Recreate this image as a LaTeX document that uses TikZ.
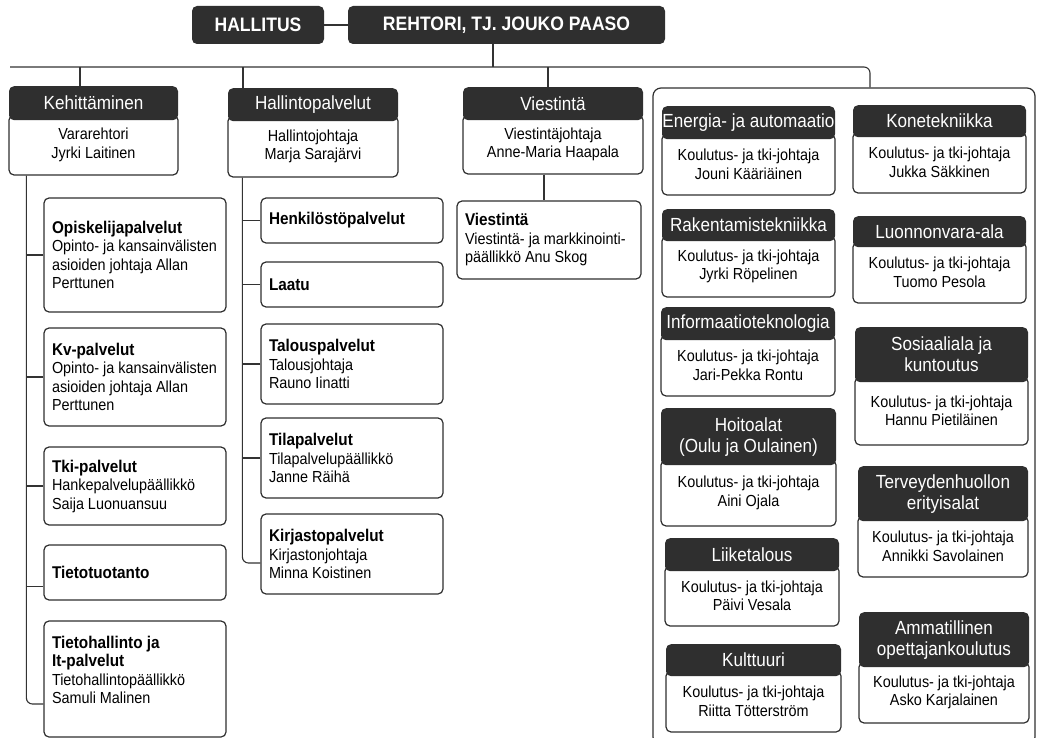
\documentclass[tikz,border=0pt]{standalone}
\usepackage{fontspec}
\setmainfont{Liberation Sans}[FakeStretch=0.9]
\usepackage{tikz}
\usetikzlibrary{positioning}
\definecolor{tumma}{HTML}{2F2F2F}
\newcommand\otsake[1]{{\bfseries\fontsize{17}{18.5}\selectfont #1}}
\tikzset{
    otsikko/.style={fill=tumma, text=white, rounded corners=5pt, inner sep=0pt, align=center, font=\fontsize{19}{21}\selectfont},
    runko/.style={draw=tumma, line width=1.2pt, fill=white, rounded corners=5pt, inner sep=0pt, align=center, font=\fontsize{16}{18.5}\selectfont},
    palvelu/.style={draw=tumma, line width=1.2pt, fill=white, rounded corners=5pt, align=flush left, inner xsep=8pt, inner ysep=0pt, text width=166pt, font=\fontsize{16}{18.5}\selectfont},
    johto/.style={fill=tumma, text=white, rounded corners=5pt, inner sep=0pt, minimum height=38pt, font=\bfseries\fontsize{19.5}{22}\selectfont},
    yhteys/.style={draw=black!80, line width=1.1pt}
}

\begin{document}
\begin{tikzpicture}[x=1pt, y=-1pt]
    \useasboundingbox (0,0) rectangle (1037,738);
    \clip (0,0) rectangle (1037,738);

    % ylin johto
    \node[johto, minimum width=132pt] (hallitus) at (258, 25) {HALLITUS};
    \node[johto, minimum width=317pt] (rehtori) at (506.5, 25) {REHTORI, TJ. JOUKO PAASO};

    % koulutusalojen kehys
    \node[draw=tumma, line width=1.2pt, rounded corners=8pt, minimum width=382pt, minimum height=657pt] (kehys) at (844, 416.5) {};

    % yksikot
    \node[runko, minimum width=169pt, minimum height=60pt] (kehitys) at (93.5, 145) {Vararehtori\\Jyrki Laitinen};
    \node[otsikko, minimum width=169pt, minimum height=34pt, above=-6pt of kehitys] (kehitys-o) {Kehittäminen};
    \node[runko, minimum width=170pt, minimum height=61pt] (hallinto) at (313, 146.5) {Hallintojohtaja\\Marja Sarajärvi};
    \node[otsikko, minimum width=170pt, minimum height=33pt, above=-6pt of hallinto] (hallinto-o) {Hallintopalvelut};
    \node[runko, minimum width=180pt, minimum height=59pt] (viestinta) at (553, 144.5) {Viestintäjohtaja\\Anne-Maria Haapala};
    \node[otsikko, minimum width=180pt, minimum height=33pt, above=-6pt of viestinta] (viestinta-o) {Viestintä};

    % kehittamisen palvelut
    \node[palvelu, minimum height=114pt] (opisk) at (135, 255) {\otsake{Opiskelijapalvelut}\\Opinto- ja kansainvälisten\\asioiden johtaja Allan\\Perttunen};
    \node[palvelu, minimum height=98pt] (kv) at (135, 377) {\otsake{Kv-palvelut}\\Opinto- ja kansainvälisten\\asioiden johtaja Allan\\Perttunen};
    \node[palvelu, minimum height=78pt] (tki) at (135, 486) {\otsake{Tki-palvelut}\\Hankepalvelupäällikkö\\Saija Luonuansuu};
    \node[palvelu, minimum height=55pt] (tietotuot) at (135, 572.5) {\otsake{Tietotuotanto}};
    \node[palvelu, minimum height=116pt] (tietohal) at (135, 679) {\otsake{Tietohallinto ja}\\\otsake{It-palvelut}\\Tietohallintopäällikkö\\Samuli Malinen\\\mbox{}};

    % hallintopalvelut
    \node[palvelu, minimum height=45pt] (henkilo) at (352, 220.5) {\otsake{Henkilöstöpalvelut}};
    \node[palvelu, minimum height=45pt] (laatu) at (352, 284.5) {\otsake{Laatu}};
    \node[palvelu, minimum height=80pt] (talous) at (352, 364) {\otsake{Talouspalvelut}\\Talousjohtaja\\Rauno Iinatti};
    \node[palvelu, minimum height=80pt] (tila) at (352, 458) {\otsake{Tilapalvelut}\\Tilapalvelupäällikkö\\Janne Räihä};
    \node[palvelu, minimum height=80pt] (kirjasto) at (352, 554) {\otsake{Kirjastopalvelut}\\Kirjastonjohtaja\\Minna Koistinen};

    % viestinta
    \node[palvelu, text width=168pt, minimum height=78pt] (viesti) at (549, 240) {\otsake{Viestintä}\\Viestintä- ja markkinointi-\\päällikkö Anu Skog};

    % koulutusalat, vasen sarake
    \node[runko, minimum width=173pt, minimum height=61pt] (energia) at (748.5, 164.5) {Koulutus- ja tki-johtaja\\Jouni Kääriäinen};
    \node[otsikko, minimum width=173pt, minimum height=33pt, above=-6pt of energia] (energia-o) {Energia- ja automaatio};
    \node[runko, minimum width=173pt, minimum height=61pt] (rakennus) at (748.5, 266.5) {Koulutus- ja tki-johtaja\\Jyrki Röpelinen};
    \node[otsikko, minimum width=173pt, minimum height=32pt, above=-6pt of rakennus] (rakennus-o) {Rakentamistekniikka};
    \node[runko, minimum width=174pt, minimum height=61pt] (info) at (748, 365.5) {Koulutus- ja tki-johtaja\\Jari-Pekka Rontu};
    \node[otsikko, minimum width=174pt, minimum height=33pt, above=-6pt of info] (info-o) {Informaatioteknologia};
    \node[runko, minimum width=175pt, minimum height=66pt] (hoito) at (748.5, 493) {Koulutus- ja tki-johtaja\\Aini Ojala};
    \node[otsikko, minimum width=175pt, minimum height=57pt, above=-6pt of hoito] (hoito-o) {Hoitoalat\\(Oulu ja Oulainen)};
    \node[runko, minimum width=174pt, minimum height=60pt] (liike) at (752, 596) {Koulutus- ja tki-johtaja\\Päivi Vesala};
    \node[otsikko, minimum width=174pt, minimum height=33pt, above=-6pt of liike] (liike-o) {Liiketalous};
    \node[runko, minimum width=175pt, minimum height=61pt] (kulttuuri) at (753.5, 701.5) {Koulutus- ja tki-johtaja\\Riitta Tötterström};
    \node[otsikko, minimum width=175pt, minimum height=32pt, above=-6pt of kulttuuri] (kulttuuri-o) {Kulttuuri};

    % koulutusalat, oikea sarake
    \node[runko, minimum width=173pt, minimum height=61pt] (kone) at (939.5, 162.5) {Koulutus- ja tki-johtaja\\Jukka Säkkinen};
    \node[otsikko, minimum width=173pt, minimum height=32pt, above=-6pt of kone] (kone-o) {Konetekniikka};
    \node[runko, minimum width=173pt, minimum height=61pt] (luonnon) at (939.5, 272.5) {Koulutus- ja tki-johtaja\\Tuomo Pesola};
    \node[otsikko, minimum width=173pt, minimum height=31pt, above=-6pt of luonnon] (luonnon-o) {Luonnonvara-ala};
    \node[runko, minimum width=173pt, minimum height=68pt] (sosiaali) at (941.5, 411) {Koulutus- ja tki-johtaja\\Hannu Pietiläinen};
    \node[otsikko, minimum width=173pt, minimum height=55pt, above=-6pt of sosiaali] (sosiaali-o) {Sosiaaliala ja\\kuntoutus};
    \node[runko, minimum width=170pt, minimum height=61pt] (terveys) at (943, 546.5) {Koulutus- ja tki-johtaja\\Annikki Savolainen};
    \node[otsikko, minimum width=170pt, minimum height=55pt, above=-6pt of terveys] (terveys-o) {Terveydenhuollon\\erityisalat};
    \node[runko, minimum width=170pt, minimum height=61pt] (ammatti) at (944, 692.5) {Koulutus- ja tki-johtaja\\Asko Karjalainen};
    \node[otsikko, minimum width=170pt, minimum height=55pt, above=-6pt of ammatti] (ammatti-o) {Ammatillinen\\opettajankoulutus};

    % yhteydet
    \coordinate (vasen) at (10, 67);
    \coordinate (oikea) at (870, 67);
    \draw[yhteys] (hallitus.east) -- (rehtori.west);
    \draw[yhteys] ([xshift=-13.5pt]rehtori.south) -- ([xshift=-13.5pt]rehtori.south |- vasen);
    \draw[yhteys, rounded corners=6pt] (vasen) -- (oikea) -- (oikea |- kehys.north);
    \draw[yhteys] ([xshift=-13.5pt]kehitys-o.north) -- ([xshift=-13.5pt]kehitys-o.north |- vasen);
    \draw[yhteys] ([xshift=-70pt]hallinto-o.north) -- ([xshift=-70pt]hallinto-o.north |- vasen);
    \draw[yhteys] ([xshift=-5pt]viestinta-o.north) -- ([xshift=-5pt]viestinta-o.north |- vasen);

    \coordinate (kselka) at ([xshift=18pt]kehitys.south west);
    \draw[yhteys, rounded corners=6pt] (kselka) |- ([yshift=-25pt]tietohal.west);
    \foreach \n in {opisk, kv, tki}
        \draw[yhteys] (\n.west) -- (\n.west -| kselka);
    \draw[yhteys] ([yshift=-14pt]tietotuot.west) -- ([yshift=-14pt]tietotuot.west -| kselka);

    \coordinate (hselka) at ([xshift=15pt]hallinto.south west);
    \draw[yhteys, rounded corners=6pt] (hselka) |- ([yshift=-9pt]kirjasto.west);
    \foreach \n in {henkilo, laatu, talous, tila}
        \draw[yhteys] (\n.west) -- (\n.west -| hselka);

    \draw[yhteys] ([xshift=-9pt]viestinta.south) -- ([xshift=-9pt]viestinta.south |- viesti.north);
\end{tikzpicture}
\end{document}
